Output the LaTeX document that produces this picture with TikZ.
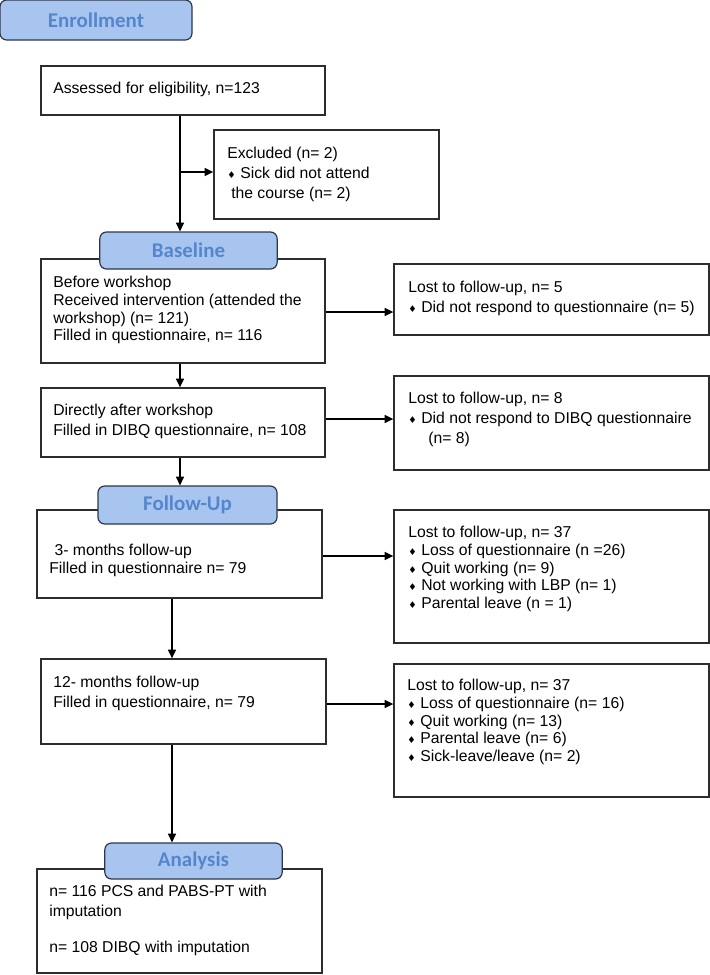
\documentclass[tikz,border=0pt]{standalone}
\usepackage{fontspec}
\setmainfont{Liberation Sans}
\newfontfamily\hdfont{Carlito}
\newfontfamily\symfont{DejaVu Sans}
\usetikzlibrary{arrows.meta,fit}

\definecolor{hdfill}{RGB}{168,197,240}
\definecolor{hdtext}{RGB}{84,134,205}
\definecolor{hdline}{RGB}{45,55,75}
\definecolor{boxline}{RGB}{45,45,45}

\newcommand{\bul}{{\symfont\fontsize{7pt}{7pt}\selectfont ♦}\hspace{3.5pt}}

\tikzset{
  box/.style   = {draw=boxline, line width=1pt, fill=white, inner sep=0pt},
  stage/.style = {draw=hdline, line width=0.9pt, fill=hdfill, rounded corners=5pt,
                  inner sep=0pt, minimum width=133pt, minimum height=27.75pt,
                  text=hdtext, font=\hdfont\bfseries\fontsize{15.7pt}{18pt}\selectfont},
  txt/.style   = {anchor=north west, inner sep=0pt, align=left,
                  font=\fontsize{11.8pt}{15pt}\selectfont},
  tight/.style = {font=\fontsize{11.8pt}{13.3pt}\selectfont},
  arr/.style   = {draw=black, line width=1pt, -{Triangle[length=6.5pt,width=6pt]}}
}

\begin{document}
\begin{tikzpicture}[x=0.75pt, y=-0.75pt]
  \useasboundingbox (0,0) rectangle (710,975);

% enrollment

\node[box, fit={(41,66) (325,115)}] (assess) {};
\node[txt] (assesst) at (53,82) {Assessed for eligibility, n=123};
\node[box, fit={(214,130) (439,219)}] (excl) {};
\node[txt] (exclt) at (227,147) {Excluded (n= 2)\\ \bul Sick did not attend\\ \hspace*{3pt}the course (n= 2)};

% baseline

\node[box, fit={(41,259) (325,363)}] (basebox) {};
\node[txt, tight] (baset) at (53,276) {Before workshop\\ Received intervention (attended the\\ workshop) (n= 121)\\ Filled in questionnaire, n= 116};
\node[box, fit={(394,264) (709,335)}] (lost5) {};
\node[txt] (lost5t) at (408,281) {Lost to follow-up, n= 5\\ \bul Did not respond to questionnaire (n= 5)};

\node[box, fit={(41,388) (325,457)}] (direct) {};
\node[txt] (directt) at (53,404) {Directly after workshop\\ Filled in DIBQ questionnaire, n= 108};
\node[box, fit={(394,376) (709,470)}] (lost8) {};
\node[txt] (lost8t) at (408,392) {Lost to follow-up, n= 8\\ \bul Did not respond to DIBQ questionnaire\\ \hspace*{15pt}(n= 8)};

% follow-up

\node[box, fit={(37,510) (322,598)}] (fubox) {};
\node[txt, tight] (fut) at (49,544) {\hspace*{4pt}3- months follow-up\\ Filled in questionnaire n= 79};
\node[box, fit={(394,510) (709,643)}] (lost37a) {};
\node[txt, tight] (lost37at) at (408,526) {Lost to follow-up, n= 37\\ \bul Loss of questionnaire (n =26)\\ \bul Quit working (n= 9)\\ \bul Not working with LBP (n= 1)\\ \bul Parental leave (n = 1)};

\node[box, fit={(41,659) (326,744)}] (m12) {};
\node[txt] (m12t) at (53,676) {12- months follow-up\\ Filled in questionnaire, n= 79};
\node[box, fit={(394,664) (709,797)}] (lost37b) {};
\node[txt, tight] (lost37bt) at (407,679) {Lost to follow-up, n= 37\\ \bul Loss of questionnaire (n= 16)\\ \bul Quit working (n= 13)\\ \bul Parental leave (n= 6)\\ \bul Sick-leave/leave (n= 2)};

% analysis

\node[box, fit={(37,869) (322,973)}] (anbox) {};
\node[txt] (ant) at (49,885) {n= 116 PCS and PABS-PT with\\ imputation\\[12pt] n= 108 DIBQ with imputation};

% stage headers

\node[stage, minimum width=144pt, minimum height=30pt] (enrol) at (96,20) {Enrollment};
\node[stage] (basehd) at (188.5,250.5) {Baseline};
\node[stage, minimum width=134.25pt, minimum height=28.5pt] (fuhd) at (187.5,505) {Follow-Up};
\node[stage, minimum height=27pt] (anhd) at (193.5,861) {Analysis};

% connectors

\coordinate (sp1) at (180,0);
\coordinate (sp2) at (172,0);
\coordinate (ex) at (0,172);
\coordinate (r1) at (0,312);
\coordinate (r2) at (0,419);
\coordinate (r3) at (0,556);
\coordinate (r4) at (0,704);

\draw[arr] (assess.south -| sp1) -- (basehd.north -| sp1);
\draw[arr] (sp1 |- ex) -- (excl.west |- ex);
\draw[arr] (basebox.south -| sp1) -- (direct.north -| sp1);
\draw[arr] (basebox.east |- r1) -- (lost5.west |- r1);
\draw[arr] (direct.east |- r2) -- (lost8.west |- r2);
\draw[arr] (direct.south -| sp1) -- (fuhd.north -| sp1);
\draw[arr] (fubox.east |- r3) -- (lost37a.west |- r3);
\draw[arr] (fubox.south -| sp2) -- (m12.north -| sp2);
\draw[arr] (m12.east |- r4) -- (lost37b.west |- r4);
\draw[arr] (m12.south -| sp2) -- (anhd.north -| sp2);

\end{tikzpicture}
\end{document}
